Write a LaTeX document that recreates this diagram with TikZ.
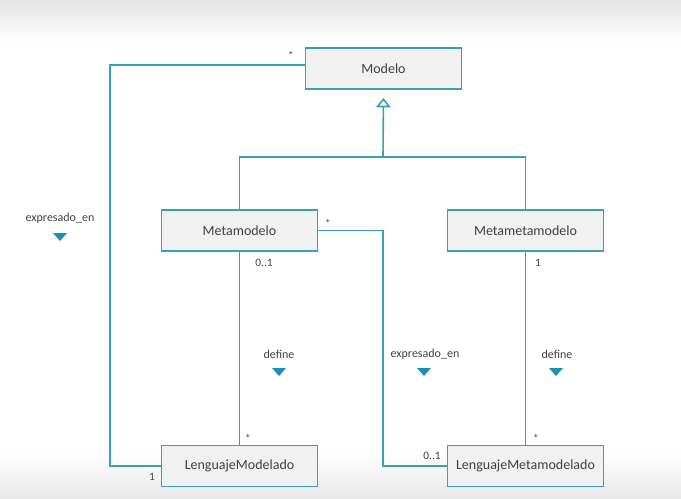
\documentclass[tikz,border=0pt]{standalone}
\usepackage{fontspec}
\setmainfont{Carlito}
\usepackage{tikz}
\usetikzlibrary{arrows.meta,positioning,calc}
\definecolor{umlline}{HTML}{3AA0B6}
\definecolor{umlfill}{HTML}{F1F1F1}
\definecolor{umltext}{HTML}{404040}
\definecolor{navblue}{HTML}{1E8DB8}

\begin{document}
\begin{tikzpicture}[x=0.75pt,y=-0.75pt, every node/.style={text=umltext,align=center},
  umlclass/.style={draw=umlline,fill=umlfill,line width=1.2pt,minimum width=117pt,minimum height=31pt,font=\fontsize{10.5}{12}\selectfont},
  mult/.style={font=\fontsize{8.5}{10}\selectfont,inner sep=1pt},
  role/.style={font=\fontsize{9}{11}\selectfont,inner sep=1pt},
  assoc/.style={draw=umlline,line width=1.2pt}]
\useasboundingbox (0,0) rectangle (681,499);
\fill[top color=black!11,bottom color=white] (0,0) rectangle (681,42);
\fill[top color=white,bottom color=black!9] (0,452) rectangle (681,499);
\node[umlclass] (modelo) at (383.5,68.5) {Modelo};
\node[umlclass] (meta) at (239.5,230.5) {Metamodelo};
\node[umlclass] (metameta) at (525.5,230.5) {Metametamodelo};
\node[umlclass] (lmod) at (239.5,466) {LenguajeModelado};
\node[umlclass] (lmeta) at (525.5,466) {LenguajeMetamodelado};
% bends of the connectors
\coordinate (gen) at (383,157);
\coordinate (cl) at (110,300);
\coordinate (cm) at (383,350);
% generalization
\draw[assoc] (meta.north) |- (gen) -| (metameta.north);
\draw[assoc,-{Triangle[open,length=7pt,width=11pt]},shorten >=6pt] (gen) -- (modelo.south);
% associations
\draw[assoc] ([yshift=2.6pt]modelo.west) -| (cl) |- (lmod.west);
\draw[assoc] (meta.east) -| (cm) |- (lmeta.west);
\foreach \x/\y in {meta/lmod,metameta/lmeta}{\draw[assoc] (\x.south)--(\y.north);}
% multiplicities
\node[mult] (m1) at (291,55) {*};
\node[mult] (m2) at (152,477) {1};
\node[mult] (m3) at (264,263) {0..1};
\node[mult] (m4) at (248,438) {*};
\node[mult] (m5) at (328,223) {*};
\node[mult] (m6) at (432,456) {0..1};
\node[mult] (m7) at (538,263) {1};
\node[mult] (m8) at (536,438) {*};
% roles
\node[role] (r1) at (60,218) {expresado\_en};
\node[role] (r2) at (279,354) {define};
\node[role] (r3) at (425,354) {expresado\_en};
\node[role] (r4) at (557,354) {define};
\foreach \x/\y in {60/237,279/372,424/372,556/372}{\fill[navblue] (\x-7,\y-4) -- (\x+7,\y-4) -- (\x,\y+4) -- cycle;}
\end{tikzpicture}
\end{document}
